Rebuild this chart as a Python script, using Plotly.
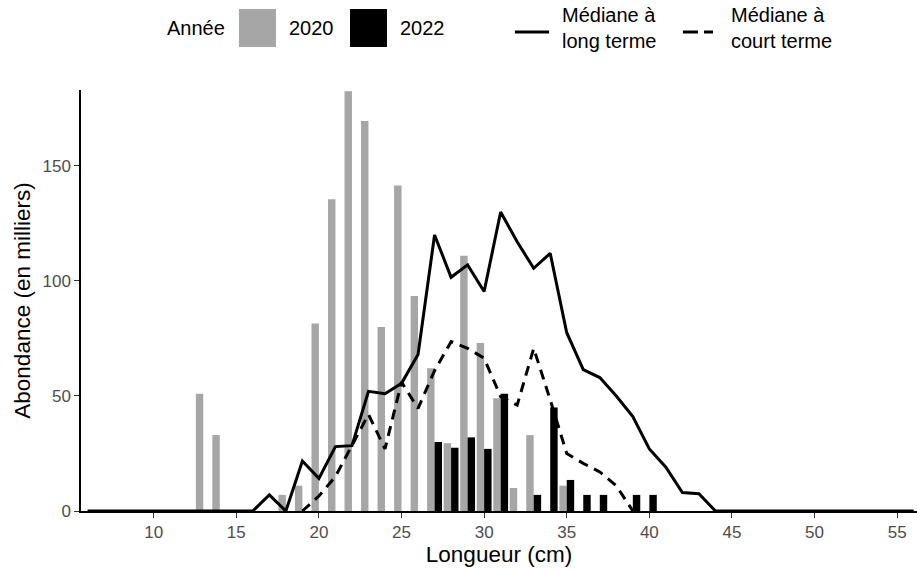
import plotly.graph_objects as go

# Length-frequency data (abundance in thousands)
lengths_2020 = [13, 14, 18, 19, 20, 21, 22, 23, 24, 25, 26, 27, 28, 29, 30, 31, 32, 33, 35]
abund_2020 = [51, 33, 7, 11, 81.5, 135.5, 182.5, 169.5, 80, 141.5, 93.5, 62, 29.5, 111, 73, 49, 10, 33, 11]

lengths_2022 = [27, 28, 29, 30, 31, 33, 34, 35, 36, 37, 39, 40]
abund_2022 = [30, 27.5, 32, 27, 51, 7, 45, 13.5, 7, 7, 7, 7]

# Long-term median over the full length range (6 to 56 cm)
lengths_long = [6, 7, 8, 9, 10, 11, 12, 13, 14, 15, 16, 17, 18, 19, 20, 21, 22, 23, 24, 25,
                26, 27, 28, 29, 30, 31, 32, 33, 34, 35, 36, 37, 38, 39, 40, 41, 42, 43, 44, 45,
                46, 47, 48, 49, 50, 51, 52, 53, 54, 55, 56]
median_long = [0, 0, 0, 0, 0, 0, 0, 0, 0, 0, 0, 7, 0, 21.7, 14.2, 28, 28.4, 52, 51, 55.5,
               68, 120, 101.6, 107, 95.4, 130, 117, 105.5, 112, 77.5, 61.5, 58, 50, 41, 27, 19, 8, 7.5, 0, 0,
               0, 0, 0, 0, 0, 0, 0, 0, 0, 0, 0]

# Short-term median (non-zero span, 19 to 39 cm)
lengths_short = [19, 20, 21, 22, 23, 24, 25, 26, 27, 28, 29, 30, 31, 32, 33, 34, 35, 36, 37, 38, 39]
median_short = [0, 6.5, 15, 28.5, 42, 27, 56, 44.6, 61, 73.6, 70.7, 66.4, 49.7, 46, 70.7, 48.3,
                25, 20.7, 17, 11, 0]

x_ticks = [10, 15, 20, 25, 30, 35, 40, 45, 50, 55]
y_ticks = [0, 50, 100, 150]

GREY = "#A6A6A6"
FONT = "Arial, 'Liberation Sans', sans-serif"

fig = go.Figure()
fig.add_trace(go.Bar(x=lengths_2020, y=abund_2020, name="2020",
                     marker=dict(color=GREY, line=dict(width=0))))
fig.add_trace(go.Bar(x=lengths_2022, y=abund_2022, name="2022",
                     marker=dict(color="black", line=dict(width=0))))
fig.add_trace(go.Scatter(x=lengths_long, y=median_long, mode="lines",
                         name="Médiane à long terme", cliponaxis=False,
                         line=dict(color="black", width=3)))
fig.add_trace(go.Scatter(x=lengths_short, y=median_short, mode="lines",
                         name="Médiane à court terme", cliponaxis=False,
                         line=dict(color="black", width=3, dash="10px,7px")))

# Plot area in pixels
L, R, T, B = 81, 917, 90, 511
W, H = R - L, B - T


def px(x):
    return (x - L) / W


def py(y):
    return (B - y) / H


# Legend keys drawn as shapes (large square swatches, line samples)
shapes = [
    dict(type="rect", xref="paper", yref="paper", x0=px(239), x1=px(276), y0=py(47), y1=py(9),
         fillcolor=GREY, line=dict(width=0)),
    dict(type="rect", xref="paper", yref="paper", x0=px(350), x1=px(387), y0=py(47), y1=py(9),
         fillcolor="black", line=dict(width=0)),
    dict(type="line", xref="paper", yref="paper", x0=px(515), x1=px(549), y0=py(32), y1=py(32),
         line=dict(color="black", width=3)),
    dict(type="line", xref="paper", yref="paper", x0=px(683), x1=px(713), y0=py(32), y1=py(32),
         line=dict(color="black", width=3, dash="15px,6px")),
]

legend_text = [
    ("Année", 165, 28),
    ("2020", 287, 28),
    ("2022", 398, 28),
    ("Médiane à<br>long terme", 560, 28),
    ("Médiane à<br>court terme", 729, 28),
]
annotations = [
    dict(text=t, xref="paper", yref="paper", x=px(xp), y=py(yp), xanchor="left", yanchor="middle",
         showarrow=False, align="left", font=dict(size=20, color="black", family=FONT))
    for t, xp, yp in legend_text
]

fig.update_layout(
    width=917, height=571,
    margin=dict(l=L, r=917 - R, t=T, b=571 - B, pad=0),
    paper_bgcolor="white", plot_bgcolor="white",
    barmode="group", bargap=0.1, bargroupgap=0,
    showlegend=False,
    font=dict(family=FONT),
    shapes=shapes, annotations=annotations,
    xaxis=dict(range=[5.6, 56.2], tickvals=x_ticks, ticks="outside", ticklen=5, tickwidth=1.2,
               tickcolor="#333333", showline=True, linecolor="black", linewidth=1.5,
               showgrid=False, zeroline=False,
               tickfont=dict(size=17, color="#4D4D4D"),
               title=dict(text="Longueur (cm)", font=dict(size=22.5, color="black"), standoff=3)),
    yaxis=dict(range=[0, 183], tickvals=y_ticks, ticks="outside", ticklen=5, tickwidth=1.2,
               tickcolor="#333333", showline=True, linecolor="black", linewidth=1.5,
               showgrid=False, zeroline=False,
               tickfont=dict(size=17, color="#4D4D4D"),
               title=dict(text="Abondance (en milliers)", font=dict(size=22.5, color="black"), standoff=6)),
)

fig.write_html("out.html")
